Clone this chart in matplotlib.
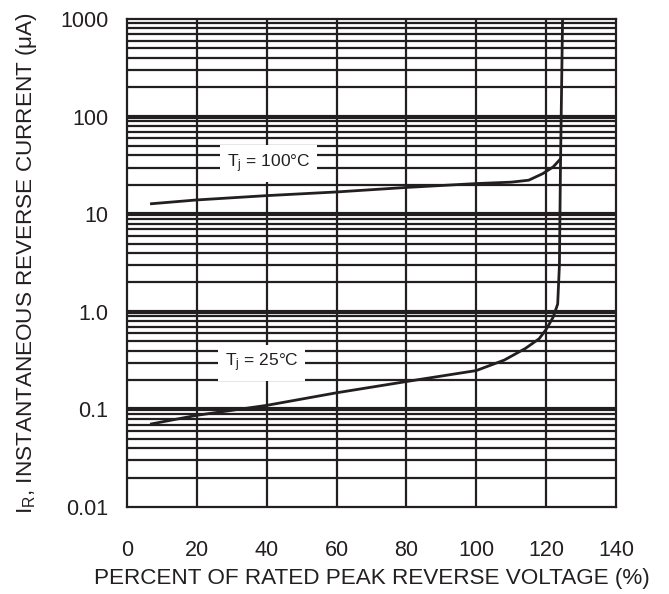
import matplotlib
matplotlib.use("Agg")
import matplotlib.pyplot as plt
import numpy as np

plt.rcParams['font.family'] = ['Liberation Sans', 'DejaVu Sans']
plt.rcParams['mathtext.default'] = 'regular'

ink = '#231f20'

# curve values
x_100 = [7, 20, 40, 60, 80, 100, 110, 115, 119, 122, 124]
y_100 = [12.8, 14.0, 15.5, 16.9, 18.8, 20.6, 21.3, 22.3, 26.0, 30.5, 36.5]

x_25 = [7, 20, 40, 60, 80, 100, 108, 114, 118, 120, 122, 123.3, 123.8, 124.1, 124.7]
y_25 = [0.071, 0.087, 0.11, 0.148, 0.193, 0.25, 0.32, 0.42, 0.53, 0.66, 0.88, 1.2, 3.0, 30, 1000]

x_ticks = [0, 20, 40, 60, 80, 100, 120, 140]
y_ticks = [0.01, 0.1, 1, 10, 100, 1000]
y_tick_labels = ['0.01', '0.1', '1.0', '10', '100', '1000']

fig = plt.figure(figsize=(6.69, 5.94), dpi=100)
ax = fig.add_axes([127/669, 1 - 507/594, (616 - 127)/669, (507 - 19)/594])

ax.set_yscale('log')
ax.set_xlim(0, 140)
ax.set_ylim(0.01, 1000)

# grid
for xv in x_ticks[1:-1]:
    ax.axvline(xv, color=ink, lw=1.6, zorder=1)
for dec in [0.01, 0.1, 1, 10, 100]:
    for m in range(2, 10):
        ax.axhline(dec * m, color=ink, lw=1.6, zorder=1)
for dec in [0.1, 1, 10, 100]:
    ax.axhline(dec, color=ink, lw=3.0, zorder=1)

ax.plot(x_100, y_100, color=ink, lw=2.0, zorder=3)
ax.plot(x_25, y_25, color=ink, lw=2.0, zorder=3)

box = dict(facecolor='white', edgecolor='none', pad=5)
ax.text(40.5, 33, r'T$_j$ = 100°C', fontsize=12.5, color=ink, ha='center',
        va='center', bbox=box, zorder=4)
ax.text(38.5, 0.30, r'T$_j$ = 25°C', fontsize=12.5, color=ink, ha='center',
        va='center', bbox=box, zorder=4)

ax.set_xticks(x_ticks)
ax.set_yticks(y_ticks)
ax.set_yticklabels(y_tick_labels)
ax.minorticks_off()
ax.tick_params(length=0, labelsize=15.5, colors=ink)
ax.tick_params(axis='y', pad=13.5)
ax.tick_params(axis='x', pad=24)
for s in ax.spines.values():
    s.set_color(ink)
    s.set_linewidth(1.6)

ax.set_xlabel('PERCENT OF RATED PEAK REVERSE VOLTAGE (%)', fontsize=16.2,
              color=ink, labelpad=5)
ax.set_ylabel(r'I$_R$, INSTANTANEOUS REVERSE CURRENT ($\mu$A)', fontsize=16.2,
              color=ink, labelpad=15)

fig.savefig('out.png', dpi=100)
